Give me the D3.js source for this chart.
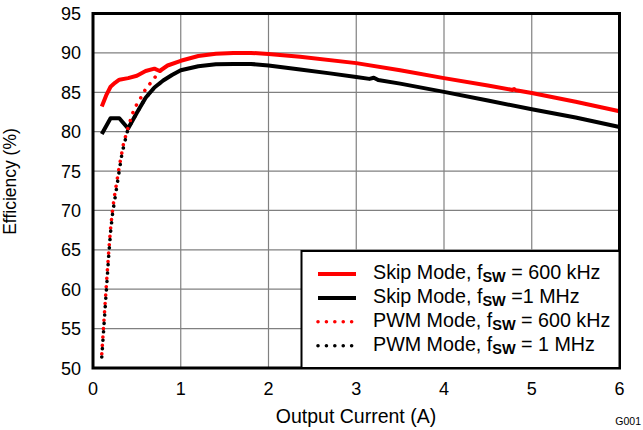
<!DOCTYPE html>
<html>
<head>
<meta charset="UTF-8">
<title>Efficiency vs Output Current</title>
<script src="https://cdn.jsdelivr.net/npm/d3@7"></script>
<style>
  body { margin:0; background:#fff; }
  svg { display:block; font-family: "Liberation Sans", Arial, sans-serif; }
</style>
</head>
<body>
<svg id="chart" width="643" height="430"></svg>
<script>
// data
const xTicks = [0, 1, 2, 3, 4, 5, 6];
const yTicks = [50, 55, 60, 65, 70, 75, 80, 85, 90, 95];

const skip600X = [0.1, 0.15, 0.2, 0.25, 0.3, 0.4, 0.5, 0.6, 0.7, 0.76, 0.85, 1.0, 1.2, 1.4, 1.6, 1.8, 2.0, 2.36, 3.0, 3.5, 4.0, 4.5, 4.78, 4.8, 4.82, 5.0, 5.5, 6.0];
const skip600Y = [83.2, 84.6, 85.7, 86.2, 86.6, 86.8, 87.1, 87.7, 88.0, 87.7, 88.4, 89.0, 89.6, 89.9, 90.0, 90.0, 89.85, 89.5, 88.7, 87.8, 86.8, 85.85, 85.3, 85.4, 85.25, 84.9, 83.8, 82.6];

const skip1mX = [0.1, 0.2, 0.3, 0.4, 0.5, 0.6, 0.7, 0.8, 0.9, 1.0, 1.2, 1.4, 1.6, 1.8, 2.0, 2.36, 2.7, 3.0, 3.15, 3.2, 3.25, 3.5, 4.0, 4.5, 5.0, 5.5, 6.0];
const skip1mY = [79.7, 81.7, 81.7, 80.4, 82.4, 84.3, 85.6, 86.5, 87.2, 87.8, 88.3, 88.55, 88.6, 88.6, 88.4, 87.9, 87.4, 86.95, 86.7, 86.85, 86.55, 86.1, 85.05, 83.95, 82.85, 81.8, 80.6];

const pwm600X = [0.1, 0.12, 0.14, 0.16, 0.18, 0.2, 0.225, 0.25, 0.3, 0.35, 0.4, 0.45, 0.5, 0.55, 0.6, 0.65, 0.7, 0.75, 0.8];
const pwm600Y = [51.8, 55.2, 58.5, 61.8, 64.9, 67.7, 70.3, 72.2, 75.6, 78.6, 80.5, 82.3, 83.5, 84.4, 85.4, 86.1, 86.8, 87.5, 88.1];

const pwm1mX = [0.1, 0.12, 0.14, 0.16, 0.18, 0.2, 0.225, 0.25, 0.3, 0.33, 0.36, 0.4, 0.5, 0.6, 0.7, 0.8];
const pwm1mY = [51.4, 54.6, 57.9, 61.1, 64.4, 67.2, 69.8, 71.5, 75.1, 77.2, 78.6, 80.4, 82.4, 84.3, 85.6, 86.5];

const legendNames = [
  ["Skip Mode, f", "SW", " = 600 kHz"],
  ["Skip Mode, f", "SW", " =1 MHz"],
  ["PWM Mode, f", "SW", " = 600 kHz"],
  ["PWM Mode, f", "SW", " = 1 MHz"]
];

const svg = d3.select("#chart");
const plotL = 93, plotR = 619.5, plotT = 13.5, plotB = 368;

const x = d3.scaleLinear().domain([0, 6]).range([plotL, plotR]);
const y = d3.scaleLinear().domain([50, 95]).range([plotB, plotT]);

// grid
svg.append("g")
  .selectAll("line")
  .data(xTicks.slice(1, -1))
  .join("line")
    .attr("x1", d => x(d)).attr("x2", d => x(d))
    .attr("y1", plotT).attr("y2", plotB)
    .attr("stroke", "#808080").attr("stroke-width", 1.2);

svg.append("g")
  .selectAll("line")
  .data(yTicks.slice(1, -1))
  .join("line")
    .attr("x1", plotL).attr("x2", plotR)
    .attr("y1", d => y(d)).attr("y2", d => y(d))
    .attr("stroke", "#808080").attr("stroke-width", 1.2);

// tick labels
svg.append("g")
  .selectAll("text")
  .data(yTicks)
  .join("text")
    .attr("x", 81)
    .attr("y", d => y(d) + 6.5)
    .attr("text-anchor", "end")
    .attr("font-size", 18)
    .text(d => d);

svg.append("g")
  .selectAll("text")
  .data(xTicks)
  .join("text")
    .attr("x", d => x(d))
    .attr("y", 395)
    .attr("text-anchor", "middle")
    .attr("font-size", 18)
    .text(d => d);

// curves
const makeLine = d3.line()
  .x(d => x(d[0]))
  .y(d => y(d[1]));

const series = [
  { xs: skip600X, ys: skip600Y, color: "#ff0000", dotted: false },
  { xs: skip1mX, ys: skip1mY, color: "#000000", dotted: false },
  { xs: pwm600X, ys: pwm600Y, color: "#ff0000", dotted: true },
  { xs: pwm1mX, ys: pwm1mY, color: "#000000", dotted: true }
];

function styleStroke(sel, s) {
  sel.attr("fill", "none")
    .attr("stroke", s.color)
    .attr("stroke-linejoin", "round");
  if (s.dotted) {
    sel.attr("stroke-width", 3.6)
      .attr("stroke-linecap", "round")
      .attr("stroke-dasharray", "0.01 8.4");
  } else {
    sel.attr("stroke-width", 4);
  }
}

series.forEach(s => {
  const pts = s.xs.map((v, i) => [v, s.ys[i]]);
  svg.append("path")
    .attr("d", makeLine(pts))
    .call(styleStroke, s);
});

// frame
svg.append("rect")
  .attr("x", plotL).attr("y", plotT)
  .attr("width", plotR - plotL).attr("height", plotB - plotT)
  .attr("fill", "none")
  .attr("stroke", "#000")
  .attr("stroke-width", 3);

// legend
const lg = svg.append("g");
lg.append("rect")
  .attr("x", 301.5).attr("y", 251)
  .attr("width", 318).attr("height", 117)
  .attr("fill", "#fff")
  .attr("stroke", "#000")
  .attr("stroke-width", 2);

legendNames.forEach((parts, i) => {
  const by = 279 + i * 23.9;
  lg.append("line")
    .attr("x1", 318).attr("x2", 356)
    .attr("y1", by - 5).attr("y2", by - 5)
    .call(styleStroke, series[i]);
  const t = lg.append("text")
    .attr("x", 373)
    .attr("y", by)
    .attr("font-size", 19.7);
  t.append("tspan").text(parts[0]);
  t.append("tspan")
    .attr("font-size", 14.5)
    .attr("font-weight", "bold")
    .attr("dy", 3)
    .text(parts[1]);
  t.append("tspan")
    .attr("dy", -3)
    .text(parts[2]);
});

// axis titles
svg.append("text")
  .attr("x", 356)
  .attr("y", 423)
  .attr("text-anchor", "middle")
  .attr("font-size", 19.5)
  .text("Output Current (A)");

svg.append("text")
  .attr("transform", "translate(16,181.5) rotate(-90)")
  .attr("text-anchor", "middle")
  .attr("font-size", 17.5)
  .text("Efficiency (%)");

svg.append("text")
  .attr("x", 641)
  .attr("y", 425)
  .attr("text-anchor", "end")
  .attr("font-size", 10.5)
  .text("G001");
</script>
</body>
</html>
